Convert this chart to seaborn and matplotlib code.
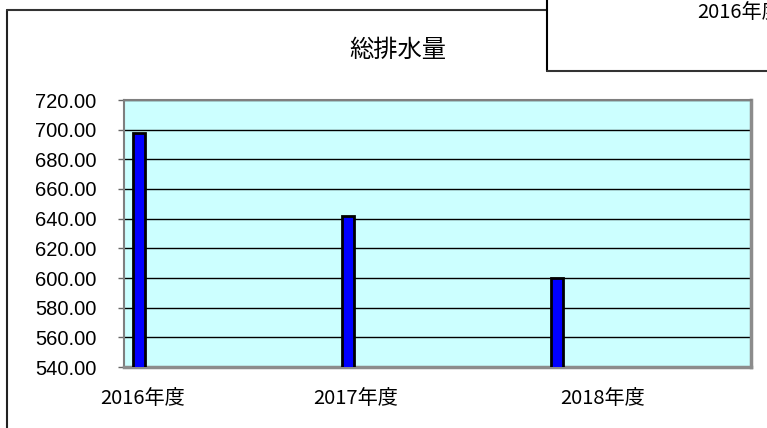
import matplotlib
matplotlib.use("Agg")
import matplotlib.pyplot as plt
import seaborn as sns
import pandas as pd
from matplotlib.lines import Line2D

# ---- data ----
categories = ["2016年度", "2017年度", "2018年度"]
values = [697.5, 641.5, 600.0]
yticks = [540, 560, 580, 600, 620, 640, 660, 680, 700, 720]
title = "総排水量"
legend_text = "2016年度"

sns.set_theme(style="white")
plt.rcParams['font.family'] = ['Liberation Sans', 'Noto Sans CJK JP', 'DejaVu Sans']
cjk = ['Noto Sans CJK JP', 'DejaVu Sans']

W, H = 767, 428
fig = plt.figure(figsize=(W / 100, H / 100), dpi=100)
fig.patch.set_facecolor("white")

def fx(px):
    return px / W

def fy(py):
    return 1 - py / H

ax = fig.add_axes([fx(124), fy(367), 627 / W, 267 / H])
df = pd.DataFrame({"year": categories, "value": values})
sns.barplot(data=df, x="year", y="value", color="#0000FF", saturation=1,
            width=0.0575, edgecolor="black", linewidth=2.0, ax=ax, zorder=3)

ax.set_facecolor("#CCFFFF")
ax.set_xlim(-0.072, 2.93)
ax.set_ylim(yticks[0], yticks[-1])
ax.set_yticks(yticks)
ax.set_yticklabels([f"{v:.2f}" for v in yticks])
ax.set_xticks([])
ax.set_xlabel("")
ax.set_ylabel("")
ax.yaxis.grid(True, color="black", linewidth=1)
ax.set_axisbelow(True)
ax.tick_params(axis="y", left=True, length=4, width=1, color="#666666",
               pad=16, labelsize=14.5, labelcolor="black")
for side in ["left", "top"]:
    ax.spines[side].set_color("#7f7f7f")
    ax.spines[side].set_linewidth(1.5)
for side in ["right", "bottom"]:
    ax.spines[side].set_color("#8c8c8c")
    ax.spines[side].set_linewidth(2.5)

# category labels (offset from bars as in the reference)
label_px = [143, 356, 603]
for lab, px in zip(categories, label_px):
    fig.text(fx(px), fy(398), lab, ha="center", va="center",
             fontsize=14.5, family=cjk, color="black")

fig.text(fx(398), fy(50), title, ha="center", va="center",
         fontsize=17.5, family=cjk, color="black")

# outer chart border
fig.add_artist(Line2D([fx(7), fx(7)], [fy(10), 0], color="#222222", lw=1.5,
                      transform=fig.transFigure))
fig.add_artist(Line2D([fx(7), fx(547)], [fy(10), fy(10)], color="#333333", lw=1.5,
                      transform=fig.transFigure))
# overlapping legend box (partly outside the picture, as in the reference)
fig.add_artist(Line2D([fx(547), fx(547)], [1, fy(71)], color="black", lw=1.5,
                      transform=fig.transFigure))
fig.add_artist(Line2D([fx(547), 1], [fy(71), fy(71)], color="#333333", lw=1.5,
                      transform=fig.transFigure))
fig.text(fx(697), fy(12), legend_text, ha="left", va="center",
         fontsize=14.5, family=cjk, color="black")

fig.savefig("out.png", dpi=100)
